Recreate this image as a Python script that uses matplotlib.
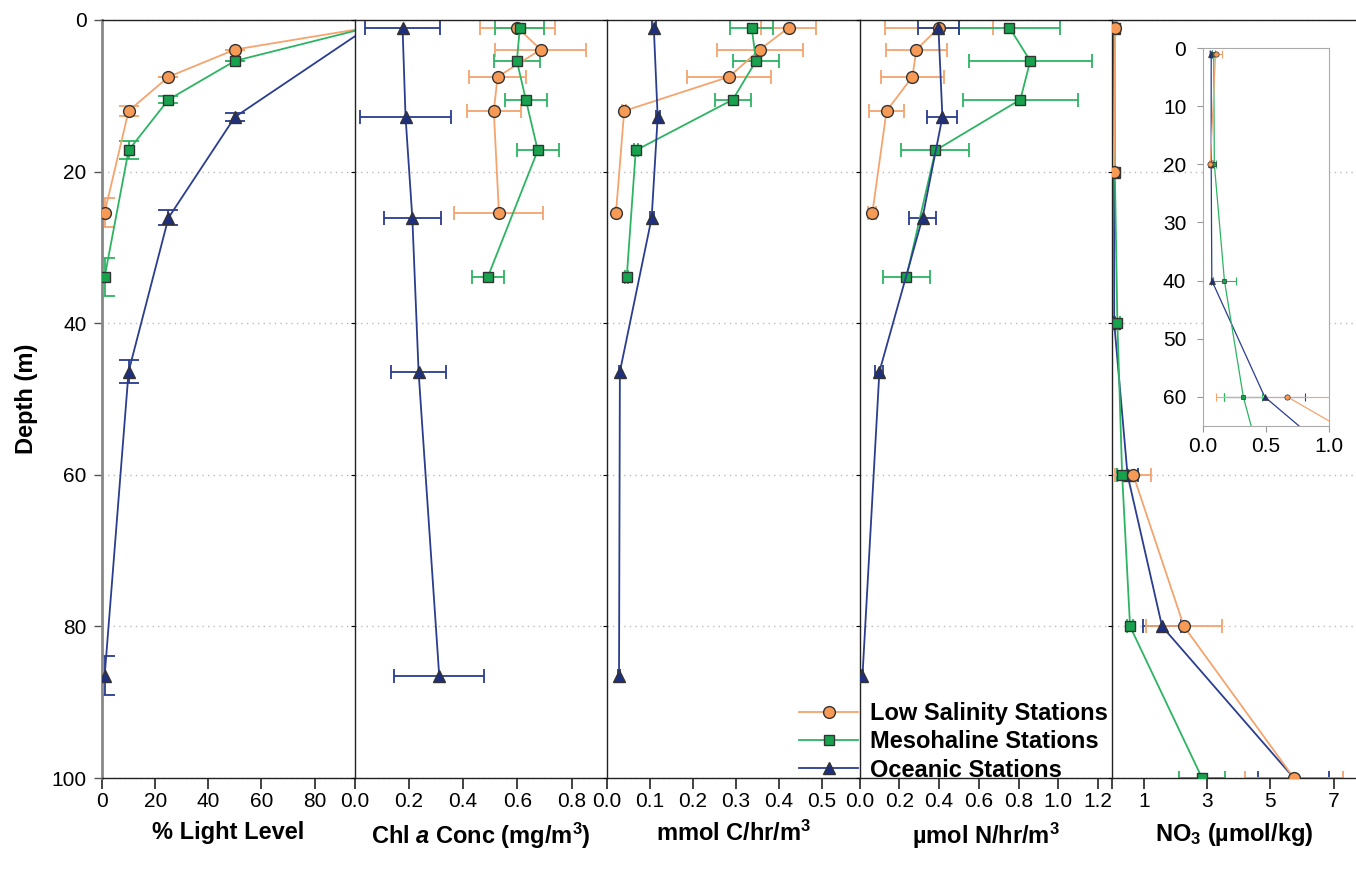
import numpy as np
import matplotlib
matplotlib.use("Agg")
import matplotlib.pyplot as plt
from matplotlib.lines import Line2D

plt.rcParams['font.family'] = ['Liberation Sans', 'DejaVu Sans']
plt.rcParams['mathtext.fontset'] = 'custom'
plt.rcParams['mathtext.rm'] = 'Liberation Sans:bold'
plt.rcParams['mathtext.it'] = 'Liberation Sans:italic:bold'
plt.rcParams['mathtext.bf'] = 'Liberation Sans:bold'

# sampling depths (m) per station group
depth_low = [1, 3.9, 7.5, 12.0, 25.4]
depth_meso = [1, 5.4, 10.5, 17.2, 33.9]
depth_ocean = [1, 12.8, 26.1, 46.4, 86.5]

# % light level (depth errors)
light_levels = [100, 50, 25, 10, 1]
light_err_low = [0, 0, 0, 0.7, 1.9]
light_err_meso = [0, 0, 0.5, 1.2, 2.5]
light_err_ocean = [0, 0.5, 1.0, 1.5, 2.6]

# Chl a (mg/m3)
chl_low = [0.60, 0.686, 0.527, 0.513, 0.532]
chl_low_err = [0.137, 0.168, 0.105, 0.10, 0.164]
chl_meso = [0.609, 0.598, 0.631, 0.675, 0.491]
chl_meso_err = [0.09, 0.085, 0.078, 0.078, 0.06]
chl_ocean = [0.177, 0.188, 0.213, 0.236, 0.312]
chl_ocean_err = [0.137, 0.166, 0.105, 0.10, 0.165]

# carbon uptake (mmol C/hr/m3)
c_low = [0.423, 0.356, 0.284, 0.040, 0.021]
c_low_err = [0.064, 0.10, 0.097, 0.004, 0.0]
c_meso = [0.337, 0.347, 0.293, 0.067, 0.046]
c_meso_err = [0.05, 0.053, 0.042, 0.005, 0.003]
c_ocean = [0.109, 0.118, 0.104, 0.030, 0.028]
c_ocean_err = [0.004, 0.005, 0.005, 0.003, 0.003]

# nitrogen uptake (umol N/hr/m3)
n_low = [0.40, 0.286, 0.266, 0.136, 0.065]
n_low_err = [0.27, 0.153, 0.16, 0.086, 0.02]
n_meso = [0.754, 0.859, 0.809, 0.382, 0.236]
n_meso_err = [0.254, 0.31, 0.29, 0.171, 0.12]
n_ocean = [0.397, 0.417, 0.317, 0.10, 0.015]
n_ocean_err = [0.103, 0.075, 0.068, 0.02, 0.005]

# nitrate (umol/kg)
no3_depth = [1, 20, 40, 60, 80, 100]
no3_low = [0.10, 0.058, np.nan, 0.67, 2.27, 5.74]
no3_low_err = [0.05, 0.01, np.nan, 0.57, 1.2, 1.55]
no3_meso = [0.085, 0.09, 0.17, 0.32, 0.57, 2.84]
no3_meso_err = [0.01, 0.01, 0.09, 0.15, 0.10, 0.72]
no3_ocean = [0.065, 0.065, 0.07, 0.49, 1.58, 5.74]
no3_ocean_err = [0.01, 0.01, 0.01, 0.32, 0.60, 1.12]

labels = ['Low Salinity Stations', 'Mesohaline Stations', 'Oceanic Stations']

ORANGE, ORANGE_FACE = '#F5A46E', '#F79A55'
GREEN, GREEN_FACE = '#2DB463', '#17A34E'
BLUE, BLUE_FACE = '#2A3D8F', '#1F2F80'
EDGE = '#333333'

styles = [
    dict(color=ORANGE, marker='o', mfc=ORANGE_FACE, ms=8.5),
    dict(color=GREEN, marker='s', mfc=GREEN_FACE, ms=7.5),
    dict(color=BLUE, marker='^', mfc=BLUE_FACE, ms=8.5),
]

fig = plt.figure(figsize=(13.56, 8.69), dpi=100)

left0 = 102 / 1356
bottom = 1 - 778 / 869
height = 758 / 869
pw = 252.5 / 1356
axes = []
for i in range(5):
    w = pw if i < 4 else 1 - (left0 + 4 * pw)
    ax = fig.add_axes([left0 + i * pw, bottom, w, height])
    axes.append(ax)

for i, ax in enumerate(axes):
    ax.set_ylim(100, 0)
    ax.set_yticks([0, 20, 40, 60, 80, 100])
    ax.yaxis.grid(True, linestyle=(0, (1, 3)), color='#bbbbbb', lw=1)
    ax.set_axisbelow(True)
    ax.spines['right'].set_visible(False)
    for s in ['top', 'bottom', 'left']:
        ax.spines[s].set_color('#222222')
        ax.spines[s].set_linewidth(1.0)
    ax.tick_params(axis='x', direction='out', length=8, width=1.2,
                   color='#222222', labelsize=15, pad=2)
    if i == 0:
        ax.tick_params(axis='y', direction='out', length=6, width=1,
                       color='#555555', labelsize=15, pad=5)
        ax.spines['left'].set_color('#888888')
        ax.spines['left'].set_linewidth(2)
    else:
        ax.tick_params(axis='y', direction='out', length=3, labelleft=False)

lw = 1.3


def draw(ax, xs, ys, errs, axis='x', cap=5, order=(0, 1, 2)):
    for k in order:
        x, y, e, st = xs[k], ys[k], errs[k], styles[k]
        kw = dict(xerr=e) if axis == 'x' else dict(yerr=e)
        ax.errorbar(x, y, fmt='none', ecolor=st['color'], elinewidth=lw,
                    capsize=cap, capthick=lw, zorder=2, **kw)
        ax.plot(x, y, color=st['color'], lw=lw, marker=st['marker'],
                mfc=st['mfc'], mec=EDGE, mew=1, ms=st['ms'], zorder=3)


depths = [depth_low, depth_meso, depth_ocean]

# panel 1 : light
ax = axes[0]
draw(ax, [light_levels] * 3, depths, [light_err_low, light_err_meso, light_err_ocean], axis='y', cap=7)
ax.set_xlim(0, 95)
ax.set_xticks([0, 20, 40, 60, 80])
ax.set_ylabel('Depth (m)', fontsize=17, fontweight='bold', labelpad=10)

# panel 2 : chl
ax = axes[1]
draw(ax, [chl_low, chl_meso, chl_ocean], depths, [chl_low_err, chl_meso_err, chl_ocean_err])
ax.set_xlim(0, 0.93)
ax.set_xticks([0, 0.2, 0.4, 0.6, 0.8])
ax.set_xticklabels(['0.0', '0.2', '0.4', '0.6', '0.8'])

# panel 3 : carbon
ax = axes[2]
draw(ax, [c_low, c_meso, c_ocean], depths, [c_low_err, c_meso_err, c_ocean_err])
ax.set_xlim(0, 0.588)
ax.set_xticks([0, 0.1, 0.2, 0.3, 0.4, 0.5])
ax.set_xticklabels(['0.0', '0.1', '0.2', '0.3', '0.4', '0.5'])

# panel 4 : nitrogen
ax = axes[3]
draw(ax, [n_low, n_meso, n_ocean], depths, [n_low_err, n_meso_err, n_ocean_err])
ax.set_xlim(0, 1.27)
ax.set_xticks([0, 0.2, 0.4, 0.6, 0.8, 1.0, 1.2])
ax.set_xticklabels(['0.0', '0.2', '0.4', '0.6', '0.8', '1.0', '1.2'])

# panel 5 : nitrate (low salinity drawn on top)
ax = axes[4]
draw(ax, [no3_low, no3_meso, no3_ocean], [no3_depth] * 3,
     [no3_low_err, no3_meso_err, no3_ocean_err], cap=5, order=(2, 1, 0))
ax.set_xlim(0, 7.7)
ax.set_xticks([0, 1, 3, 5, 7])
ax.set_xticklabels(['', '1', '3', '5', '7'])

xlabels = ['% Light Level', r'Chl $\mathit{a}$ Conc (mg/m$^{\mathbf{3}}$)',
           r'mmol C/hr/m$^{\mathbf{3}}$', r'µmol N/hr/m$^{\mathbf{3}}$',
           r'NO$_{\mathbf{3}}$ (µmol/kg)']
for ax, t in zip(axes, xlabels):
    ax.set_xlabel(t, fontsize=17, fontweight='bold', labelpad=7)

# inset
ins = fig.add_axes([1203 / 1356, 1 - 426 / 869, 126 / 1356, 378 / 869])
for k in (2, 1, 0):
    x = [no3_low, no3_meso, no3_ocean][k]
    e = [no3_low_err, no3_meso_err, no3_ocean_err][k]
    st = styles[k]
    ins.errorbar(x, no3_depth, xerr=e, fmt='none', ecolor=st['color'],
                 elinewidth=0.8, capsize=3, capthick=0.8, zorder=2)
    ins.plot(x, no3_depth, color=st['color'], lw=0.9, marker=st['marker'],
             mfc=st['mfc'], mec=EDGE, mew=0.5, ms=st['ms'] * 0.45, zorder=3)
ins.set_xlim(0, 1.0)
ins.set_ylim(65, 0)
ins.set_xticks([0, 0.5, 1.0])
ins.set_xticklabels(['0.0', '0.5', '1.0'])
ins.set_yticks([0, 10, 20, 30, 40, 50, 60])
for s in ins.spines.values():
    s.set_color('#aaaaaa')
ins.tick_params(direction='out', length=4, color='#999999', labelsize=15, pad=4)
ins.tick_params(axis='y', pad=8)

# legend
handles = [Line2D([], [], color=st['color'], lw=lw, marker=st['marker'], mfc=st['mfc'],
                  mec=EDGE, mew=1, ms=st['ms']) for st in styles]
fig.legend(handles, labels, loc='lower left', bbox_to_anchor=(790 / 1356, 1 - 791 / 869),
           frameon=False, prop=dict(size=17, weight='bold'), handlelength=2.5,
           handletextpad=0.5, labelspacing=0.22, borderaxespad=0)

fig.savefig('out.png', dpi=100)
